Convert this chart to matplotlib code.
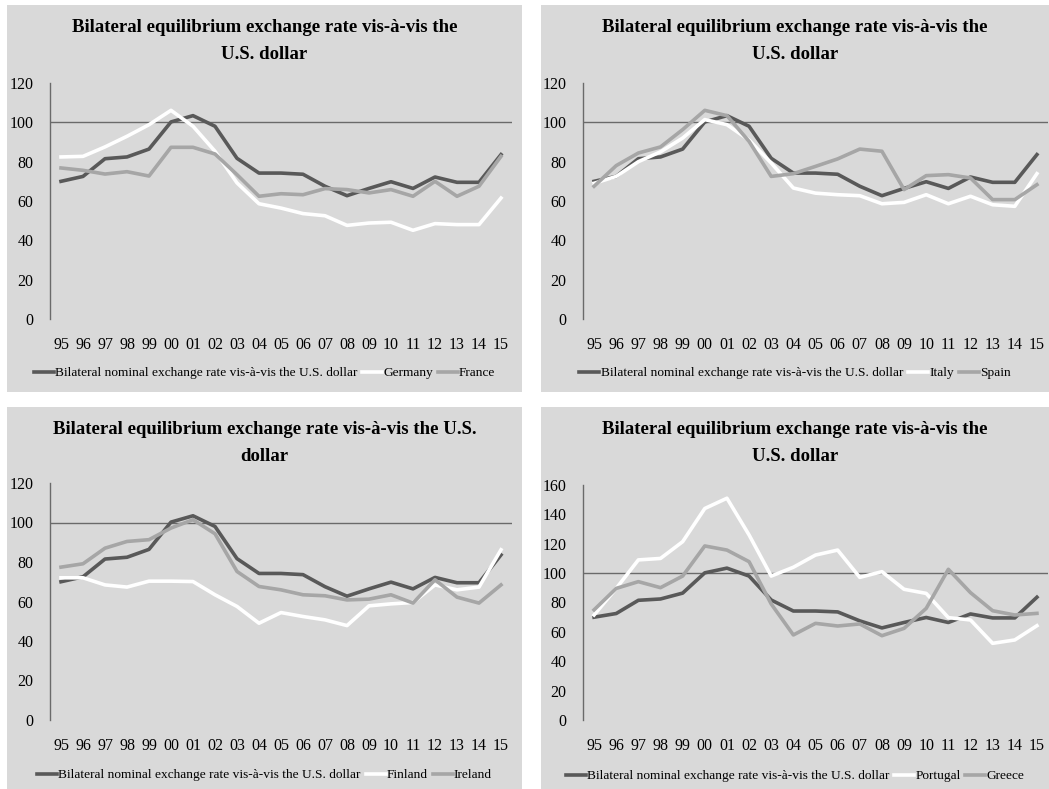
import matplotlib
matplotlib.use("Agg")
import matplotlib.pyplot as plt
from matplotlib.patches import Rectangle

plt.rcParams['font.family'] = ['Liberation Serif', 'DejaVu Serif']

years = ['95', '96', '97', '98', '99', '00', '01', '02', '03', '04', '05',
         '06', '07', '08', '09', '10', '11', '12', '13', '14', '15']

# nominal rate, identical in every panel
nominal = [70.0, 72.5, 81.5, 82.4, 86.4, 100.2, 103.4, 98.0, 81.7, 74.2, 74.2,
           73.6, 67.5, 62.7, 66.4, 69.8, 66.4, 72.2, 69.5, 69.5, 83.6]

germany = [82.4, 82.7, 87.5, 92.9, 98.8, 106.1, 98.0, 85.3, 69.2, 58.6, 56.4,
           53.6, 52.5, 47.6, 48.8, 49.2, 45.1, 48.5, 48.0, 48.0, 61.5]
france = [76.8, 75.6, 73.7, 74.9, 72.7, 87.3, 87.3, 83.9, 73.4, 62.4, 63.7,
          63.2, 66.3, 65.8, 64.1, 65.8, 62.4, 70.0, 62.4, 67.5, 82.7]

italy = [69.0, 72.5, 80.0, 85.0, 92.0, 101.4, 98.8, 91.0, 79.3, 66.6, 64.0,
         63.2, 62.7, 58.6, 59.3, 63.2, 58.6, 62.4, 58.1, 57.3, 73.9]
spain = [67.5, 78.0, 84.4, 87.5, 96.3, 106.1, 103.4, 90.3, 72.5, 73.9, 77.6,
         81.4, 86.4, 85.3, 65.8, 72.9, 73.4, 71.7, 60.7, 60.7, 68.3]

finland = [72.0, 72.0, 68.4, 67.3, 70.3, 70.3, 70.1, 63.4, 57.5, 49.0, 54.4,
           52.4, 50.7, 47.8, 57.8, 58.8, 59.5, 68.4, 65.9, 67.3, 86.2]
ireland = [77.4, 79.1, 87.0, 90.4, 91.3, 97.2, 101.4, 94.3, 75.2, 67.6, 65.9,
           63.4, 62.9, 60.8, 61.2, 63.4, 59.2, 71.0, 62.2, 59.2, 68.4]

portugal = [71.5, 89.6, 109.0, 110.0, 121.4, 144.0, 151.0, 126.0, 98.0, 104.0, 112.3,
            115.7, 97.1, 101.0, 89.0, 86.2, 69.7, 68.1, 52.2, 54.5, 64.2]
greece = [75.0, 89.6, 94.2, 90.1, 98.0, 118.5, 115.7, 107.8, 79.0, 57.9, 65.8,
          64.0, 65.4, 57.4, 62.4, 76.0, 102.6, 86.7, 74.4, 71.5, 72.6]

title_a = "Bilateral equilibrium exchange rate vis-à-vis the\nU.S. dollar"
title_b = "Bilateral equilibrium exchange rate vis-à-vis the U.S.\ndollar"
nominal_label = "Bilateral nominal exchange rate vis-à-vis the U.S. dollar"

W, H = 1049, 789
fig = plt.figure(figsize=(W / 100, H / 100), dpi=100)

# (panel box, axes box) in pixels from the top-left: (x0, y0, x1, y1)
panels = [
    dict(box=(7, 5, 522, 392), ax=(50, 83, 512, 319), title=title_a,
         names=("Germany", "France"), data=(germany, france), ymax=120, leg_y=373),
    dict(box=(541, 5, 1049, 392), ax=(583, 83, 1048, 319), title=title_a,
         names=("Italy", "Spain"), data=(italy, spain), ymax=120, leg_y=373),
    dict(box=(7, 407, 522, 789), ax=(50, 483, 512, 720), title=title_b,
         names=("Finland", "Ireland"), data=(finland, ireland), ymax=120, leg_y=775),
    dict(box=(541, 407, 1049, 789), ax=(583, 485, 1048, 720), title=title_a,
         names=("Portugal", "Greece"), data=(portugal, greece), ymax=160, leg_y=776),
]


def px_rect(x0, y0, x1, y1):
    return [x0 / W, 1 - y1 / H, (x1 - x0) / W, (y1 - y0) / H]


for p in panels:
    bx0, by0, bx1, by1 = p['box']
    fig.patches.append(Rectangle((bx0 / W, 1 - by1 / H), (bx1 - bx0) / W, (by1 - by0) / H,
                                 transform=fig.transFigure, facecolor='#d9d9d9',
                                 edgecolor='none', zorder=-10))
    cx = (bx0 + bx1) / 2 / W
    fig.text(cx, 1 - (by0 + 36) / H, p['title'], ha='center', va='center',
             fontsize=13.5, fontweight='bold', linespacing=1.75)

    ax = fig.add_axes(px_rect(*p['ax']))
    ax.set_facecolor('none')
    x = range(len(years))
    ax.plot(x, nominal, color='#595959', lw=2.6, label=nominal_label, zorder=3)
    ax.plot(x, p['data'][0], color='#ffffff', lw=2.6, label=p['names'][0], zorder=3)
    ax.plot(x, p['data'][1], color='#a6a6a6', lw=2.6, label=p['names'][1], zorder=3)
    ax.axhline(100, color='#6a6a6a', lw=1.0, zorder=2)

    ax.set_xlim(-0.5, len(years) - 0.5)
    ax.set_ylim(0, p['ymax'])
    ax.set_yticks(range(0, p['ymax'] + 1, 20))
    ax.set_xticks(list(x))
    ax.set_xticklabels(years)
    for s in ('top', 'right', 'bottom'):
        ax.spines[s].set_visible(False)
    ax.spines['left'].set_color('#6a6a6a')
    ax.spines['left'].set_linewidth(1.0)
    ax.tick_params(axis='x', length=0, pad=13, labelsize=11.5)
    ax.tick_params(axis='y', length=0, pad=12, labelsize=11.5)

    lx = (bx0 + bx1) / 2
    ax.legend(loc='center', bbox_to_anchor=(lx / W, 1 - p['leg_y'] / H),
              bbox_transform=fig.transFigure, ncol=3, frameon=False,
              fontsize=9.6, handlelength=1.5, handletextpad=0.1,
              columnspacing=0.35, borderpad=0)

fig.savefig("out.png", dpi=100)
